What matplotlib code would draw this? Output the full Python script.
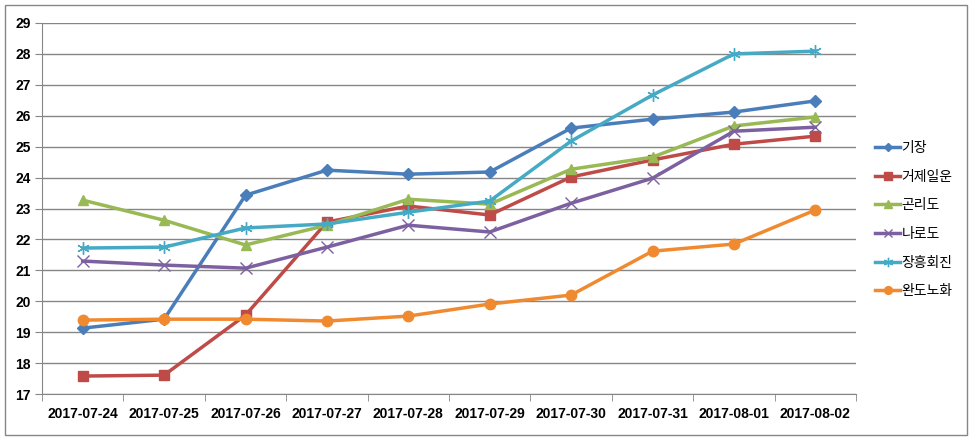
import numpy as np
import matplotlib.pyplot as plt
from matplotlib.patches import Rectangle

# dates on the x axis
dates = ['2017-07-24', '2017-07-25', '2017-07-26', '2017-07-27', '2017-07-28',
         '2017-07-29', '2017-07-30', '2017-07-31', '2017-08-01', '2017-08-02']

# series values
gijang = [19.13, 19.42, 23.43, 24.24, 24.11, 24.18, 25.60, 25.89, 26.12, 26.48]
geoje = [17.58, 17.61, 19.55, 22.56, 23.08, 22.79, 24.02, 24.57, 25.08, 25.34]
gonri = [23.27, 22.62, 21.82, 22.46, 23.30, 23.14, 24.27, 24.66, 25.67, 25.96]
narodo = [21.30, 21.17, 21.07, 21.75, 22.46, 22.24, 23.17, 23.98, 25.50, 25.63]
jangheung = [21.72, 21.75, 22.37, 22.50, 22.88, 23.24, 25.18, 26.67, 28.00, 28.09]
wando = [19.39, 19.42, 19.42, 19.36, 19.52, 19.91, 20.20, 21.62, 21.85, 22.95]

names = ['기장', '거제일운', '곤리도', '나로도', '장흥회진', '완도노화']
series = [gijang, geoje, gonri, narodo, jangheung, wando]
colors = ['#4A7EBB', '#BE4B48', '#98B954', '#7D60A0', '#46AAC5', '#F08A30']
markers = ['D', 's', '^', 'x', (6, 2, 0), 'o']
msizes = [6, 7.5, 7.5, 8, 9, 7.5]

fig = plt.figure(figsize=(9.8, 4.45), dpi=100)
ax = fig.add_axes([42/980, 51/445, 814/980, 371/445])

x = np.arange(len(dates))
for vals, name, c, m, ms in zip(series, names, colors, markers, msizes):
    ax.plot(x, vals, color=c, lw=2.5, marker=m, markersize=ms,
            markeredgecolor=c, markerfacecolor=c, markeredgewidth=1.0, label=name)

ax.set_xlim(-0.5, len(dates) - 0.5)
ax.set_ylim(17, 29)
ax.set_yticks(range(17, 30))
ax.set_xticks(x)
ax.set_xticklabels(dates)
ax.set_xticks(np.arange(-0.5, len(dates)), minor=True)
ax.tick_params(axis='x', which='major', length=0, pad=9)
ax.tick_params(axis='x', which='minor', length=5, color='#868686')
ax.tick_params(axis='y', length=5, color='#868686', pad=3)
for lab in ax.get_xticklabels() + ax.get_yticklabels():
    lab.set_fontweight('bold')
    lab.set_fontsize(10)
    lab.set_family('Liberation Sans')

ax.grid(axis='y', color='#868686', lw=1)
ax.set_axisbelow(True)
for s in ['top', 'right']:
    ax.spines[s].set_visible(False)
for s in ['left', 'bottom']:
    ax.spines[s].set_color('#868686')

leg = ax.legend(loc='center left', bbox_to_anchor=(1.008, 0.47), frameon=False,
                prop={'family': 'Noto Sans CJK KR', 'size': 10},
                handlelength=1.8, handletextpad=0.1, labelspacing=1.05,
                markerscale=0.75)

# outer chart border
fig.patches.append(Rectangle((5/980, 10/445), 962/980, 430/445, transform=fig.transFigure,
                             fill=False, edgecolor='#868686', lw=1))

fig.savefig('out.png', dpi=100)
